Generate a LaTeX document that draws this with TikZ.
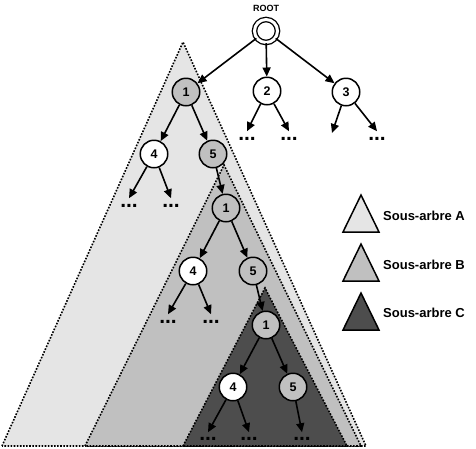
\documentclass[tikz,border=0pt]{standalone}
\usepackage{fontspec}
\setmainfont{Liberation Sans}
\usetikzlibrary{arrows.meta}
\definecolor{subA}{RGB}{229,229,229}
\definecolor{subB}{RGB}{192,192,192}
\definecolor{subC}{RGB}{77,77,77}
\definecolor{nodegray}{RGB}{192,192,192}
\begin{document}
\begin{tikzpicture}[x=1pt,y=-1pt,
  tri/.style={line width=1.6pt, dash pattern=on 1.6pt off 1.5pt},
  legtri/.style={draw=black, line width=1.5pt, line join=miter},
  vertex/.style={circle, draw=black, line width=1.5pt, minimum size=27.5pt, inner sep=0pt, font=\fontsize{12.5}{12.5}\selectfont\bfseries},
  gvertex/.style={vertex, fill=nodegray},
  wvertex/.style={vertex, fill=white},
  etc/.style={inner sep=0pt, font=\fontsize{21}{21}\selectfont\bfseries},
  arr/.style={-{Triangle[length=9pt,width=8pt]}, line width=1.6pt},
  legtext/.style={anchor=west, inner sep=0pt, font=\fontsize{13}{13}\selectfont\bfseries}
]
\useasboundingbox (0,0) rectangle (476,448);
\fill[white] (0,0) rectangle (476,448);
% subtrees
\draw[tri, fill=subA] (2,446) -- (183,42) -- (366,446) -- cycle;
\draw[tri, fill=subB] (85,446) -- (224,165) -- (361,446) -- cycle;
\draw[tri, fill=subC] (183,446) -- (265,288) -- (347,446) -- cycle;
% nodes
\node[font=\fontsize{9}{9}\selectfont\bfseries, inner sep=0pt] (rootlabel) at (266,8) {ROOT};
\node[circle, draw=black, fill=white, double, double distance=3pt, line width=1.3pt, minimum size=23pt, inner sep=0pt] (root) at (266,31) {};
\node[gvertex] (n1) at (186,92) {1};
\node[wvertex] (n2) at (267,91) {2};
\node[wvertex] (n3) at (346,92) {3};
\node[wvertex] (n4) at (154,154) {4};
\node[gvertex] (n5) at (213,154) {5};
\node[gvertex] (m1) at (226,208) {1};
\node[wvertex] (m4) at (193,271) {4};
\node[gvertex] (m5) at (253,271) {5};
\node[gvertex] (c1) at (266,325) {1};
\node[wvertex] (c4) at (233,387) {4};
\node[gvertex] (c5) at (293,387) {5};
% continuation dots
\node[etc] (d2a) at (247,139) {...};
\node[etc] (d2b) at (289,139) {...};
\node[etc] (d3b) at (377,139) {...};
\coordinate (t3a) at (332,133);
\node[etc] (d4a) at (129,206) {...};
\node[etc] (d4b) at (171,206) {...};
\node[etc] (e4a) at (168,322) {...};
\node[etc] (e4b) at (211,322) {...};
\node[etc] (f4a) at (208,439) {...};
\node[etc] (f4b) at (249,439) {...};
\node[etc] (f5) at (302,439) {...};
% edges
\draw[arr] (root) -- (n1);
\draw[arr] (root) -- (n2);
\draw[arr] (root) -- (n3);
\draw[arr] (n1) -- (n4);
\draw[arr] (n1) -- (n5);
\draw[arr] (n2) -- ([yshift=6pt]d2a.north);
\draw[arr] (n2) -- ([yshift=6pt]d2b.north);
\draw[arr] (n3) -- (t3a);
\draw[arr] (n3) -- ([yshift=6pt]d3b.north);
\draw[arr] (n4) -- ([yshift=6pt]d4a.north);
\draw[arr] (n4) -- ([yshift=6pt]d4b.north);
\draw[arr] (n5) -- (m1);
\draw[arr] (m1) -- (m4);
\draw[arr] (m1) -- (m5);
\draw[arr] (m4) -- ([yshift=6pt]e4a.north);
\draw[arr] (m4) -- ([yshift=6pt]e4b.north);
\draw[arr] (m5) -- (c1);
\draw[arr] (c1) -- (c4);
\draw[arr] (c1) -- (c5);
\draw[arr] (c4) -- ([yshift=5pt]f4a.north);
\draw[arr] (c4) -- ([yshift=5pt]f4b.north);
\draw[arr] (c5) -- ([yshift=5pt]f5.north);
% legend
\draw[legtri, fill=subA] (343,232) -- (361,195) -- (379,232) -- cycle;
\draw[legtri, fill=subB] (343,281) -- (361,244) -- (379,281) -- cycle;
\draw[legtri, fill=subC] (343,330) -- (361,293) -- (379,330) -- cycle;
\node[legtext] (la) at (383,216) {Sous-arbre A};
\node[legtext] (lb) at (383,265) {Sous-arbre B};
\node[legtext] (lc) at (383,313) {Sous-arbre C};
\end{tikzpicture}
\end{document}
